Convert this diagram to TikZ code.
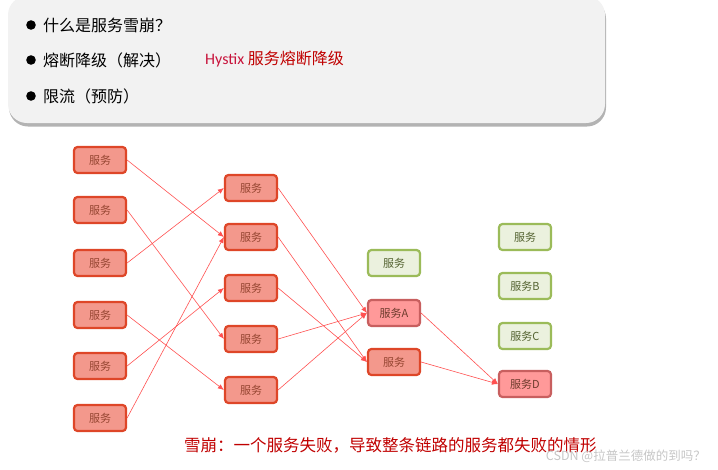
\documentclass[tikz,border=0pt]{standalone}
\usepackage{fontspec}
\setmainfont{Noto Sans CJK SC}
\newfontfamily\latinfont{Carlito}
\usetikzlibrary{arrows.meta,shadows}
\definecolor{panelgray}{RGB}{242,242,242}
\definecolor{svcfill}{RGB}{243,152,140}
\definecolor{svcedge}{RGB}{222,70,40}
\definecolor{svctext}{RGB}{150,70,50}
\definecolor{hitfill}{RGB}{255,153,153}
\definecolor{hitedge}{RGB}{200,95,95}
\definecolor{hittext}{RGB}{110,60,45}
\definecolor{okfill}{RGB}{235,241,222}
\definecolor{okedge}{RGB}{155,187,89}
\definecolor{oktext}{RGB}{85,100,50}
\definecolor{linkred}{RGB}{255,80,80}
\definecolor{capred}{RGB}{192,0,0}
\definecolor{hysred}{RGB}{200,20,60}
\begin{document}
\begin{tikzpicture}[x=1pt,y=-1pt,>={Latex[length=6pt,width=5pt]},svc/.style={draw=svcedge,fill=svcfill,text=svctext,line width=2.2pt,rounded corners=3.5pt,minimum width=52pt,minimum height=26pt,inner sep=0pt,font=\fontsize{11}{12}\selectfont},ok/.style={svc,draw=okedge,fill=okfill,text=oktext},hit/.style={svc,draw=hitedge,fill=hitfill,text=hittext},link/.style={->,draw=linkred,line width=0.6pt},item/.style={anchor=west,inner sep=0pt,font=\fontsize{16}{18}\selectfont}]
\useasboundingbox (0,0) rectangle (718,469);
\clip (0,0) rectangle (718,469);
% top panel
\path[fill=panelgray,rounded corners=19pt,drop shadow={opacity=.6,shadow xshift=1pt,shadow yshift=-3.5pt}] (8,-4) rectangle (605,123);
\fill (31,25) circle (4.8);
\fill (31,60) circle (4.8);
\fill (31,96) circle (4.8);
\node[item] (q1) at (43,25) {什么是服务雪崩？};
\node[item] (q2) at (43,60) {熔断降级（解决）};
\node[item] (q3) at (43,96) {限流（预防）};
\node[item,text=capred] (hys) at (205,59) {{\latinfont\color{hysred}Hystix} 服务熔断降级};
% first column
\node[svc] (l1) at (100,160) {服务};
\node[svc] (l2) at (100,210) {服务};
\node[svc] (l3) at (100,263) {服务};
\node[svc] (l4) at (100,315) {服务};
\node[svc] (l5) at (100,366) {服务};
\node[svc] (l6) at (100,418) {服务};
% second column
\node[svc] (m1) at (251,188) {服务};
\node[svc] (m2) at (251,237) {服务};
\node[svc] (m3) at (251,288) {服务};
\node[svc] (m4) at (251,339) {服务};
\node[svc] (m5) at (251,390) {服务};
% third column
\node[ok] (n0) at (394,263) {服务};
\node[hit] (na) at (394,313) {服务A};
\node[svc] (nr) at (394,362) {服务};
% last column
\node[ok] (s0) at (525,237) {服务};
\node[ok] (sb) at (525,286) {服务B};
\node[ok] (sc) at (525,336) {服务C};
\node[hit] (sd) at (525,384) {服务D};
\draw[link] (l1.east)--(m2.west);
\draw[link] (l2.east)--(m4.west);
\draw[link] (l3.east)--(m1.west);
\draw[link] (l4.east)--(m5.west);
\draw[link] (l5.east)--(m3.west);
\draw[link] (l6.east)--(m2.west);
\draw[link] (m1.east)--(na.west);
\draw[link] (m2.east)--(nr.west);
\draw[link] (m3.east)--(nr.west);
\draw[link] (m4.east)--(na.west);
\draw[link] (m5.east)--(na.west);
\draw[link] (na.east)--(sd.west);
\draw[link] (nr.east)--(sd.west);
\node[anchor=west,inner sep=0pt,text=capred,font=\fontsize{16.5}{18}\selectfont] (cap) at (184,445) {雪崩：一个服务失败，导致整条链路的服务都失败的情形};
\node[anchor=east,inner sep=0pt,text=gray!45,font=\fontsize{12.5}{14}\selectfont] (mark) at (706,456) {CSDN @拉普兰德做的到吗？};
\end{tikzpicture}
\end{document}
